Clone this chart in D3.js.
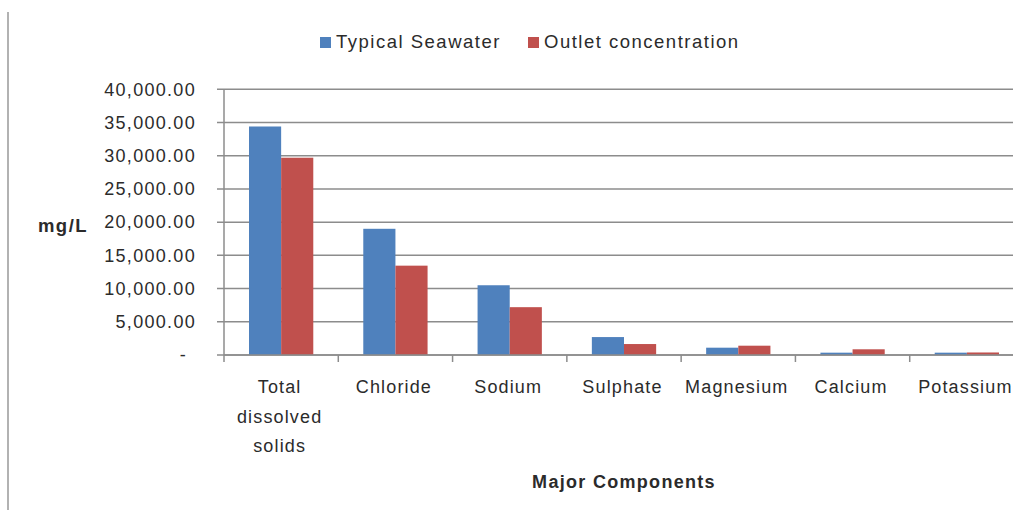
<!DOCTYPE html>
<html><head><meta charset="utf-8">
<script src="https://cdn.jsdelivr.net/npm/d3@7"></script>
<style>body{margin:0;background:#fff;overflow:hidden}svg{display:block}</style>
</head><body>
<script>
const categories = ["Total dissolved solids","Chloride","Sodium","Sulphate","Magnesium","Calcium","Potassium"];
const categoryLines = [["Total","dissolved","solids"],["Chloride"],["Sodium"],["Sulphate"],["Magnesium"],["Calcium"],["Potassium"]];
const seriesNames = ["Typical Seawater","Outlet concentration"];
const typicalSeawater = [34400, 19000, 10500, 2700, 1100, 350, 350];
const outletConcentration = [29700, 13450, 7200, 1650, 1400, 860, 380];
const yTicks = [0,5000,10000,15000,20000,25000,30000,35000,40000];
const colors = ["#4F81BD","#C0504D"];

(function(){
const W=1013,H=514;
const svg=d3.select("body").append("svg").attr("width",W).attr("height",H);
const font="Liberation Sans, Arial, sans-serif";
const txt="#2b2b2b";
const pL=224, pR=1024, pT=89.3, pB=355;

svg.append("line").attr("x1",8).attr("x2",8).attr("y1",12).attr("y2",510).attr("stroke","#999").attr("stroke-width",1.5);

const x=d3.scaleBand().domain(categories).range([pL,pR]).paddingInner(0).paddingOuter(0);
const y=d3.scaleLinear().domain([0,40000]).range([pB,pT]);
const inner=d3.scaleBand().domain(seriesNames).range([25,x.bandwidth()-25]);

svg.append("g").selectAll("line").data(yTicks).join("line")
  .attr("x1",pL-7).attr("x2",pR).attr("y1",d=>y(d)).attr("y2",d=>y(d))
  .attr("stroke","#8c8c8c").attr("stroke-width",1.5);

const data=categories.map((c,i)=>({c,vals:[typicalSeawater[i],outletConcentration[i]]}));
const g=svg.append("g");
data.forEach(d=>{
  d.vals.forEach((v,j)=>{
    g.append("rect").attr("x",x(d.c)+inner(seriesNames[j])).attr("width",inner.bandwidth())
      .attr("y",y(v)).attr("height",y(0)-y(v)).attr("fill",colors[j]);
  });
});

svg.append("line").attr("x1",pL).attr("x2",pL).attr("y1",pT).attr("y2",pB+7).attr("stroke","#8c8c8c").attr("stroke-width",1.5);
svg.append("line").attr("x1",pL).attr("x2",pR).attr("y1",pB).attr("y2",pB).attr("stroke","#8c8c8c").attr("stroke-width",1.5);
svg.append("g").selectAll("line").data(categories).join("line")
  .attr("x1",d=>x(d)+x.bandwidth()).attr("x2",d=>x(d)+x.bandwidth())
  .attr("y1",pB).attr("y2",pB+7).attr("stroke","#8c8c8c").attr("stroke-width",1.5);

const fmt=d3.format(",.2f");
svg.append("g").selectAll("text").data(yTicks).join("text")
  .attr("x",d=>d===0?187:196).attr("y",d=>y(d)).attr("dy","0.35em").attr("text-anchor","end")
  .attr("font-family",font).attr("font-size",18).attr("letter-spacing","1.3px").attr("fill",txt)
  .text(d=>d===0?"-":fmt(d));

svg.append("g").selectAll("text").data(categories).join("text")
  .attr("font-family",font).attr("font-size",18).attr("letter-spacing","1.15px").attr("fill",txt).attr("text-anchor","middle")
  .each(function(d,i){
    const t=d3.select(this);
    categoryLines[i].forEach((l,k)=>{
      t.append("tspan").attr("x",x(d)+x.bandwidth()/2-1.5).attr("y",393+k*29.5).text(l);
    });
  });

svg.append("text").attr("x",63).attr("y",232).attr("text-anchor","middle").attr("font-family",font)
  .attr("font-weight","bold").attr("font-size",18.5).attr("letter-spacing","1.5px").attr("fill",txt).text("mg/L");
svg.append("text").attr("x",624).attr("y",488).attr("text-anchor","middle").attr("font-family",font)
  .attr("font-weight","bold").attr("font-size",18).attr("letter-spacing","1.3px").attr("fill",txt).text("Major  Components");

const legX=[320,528];
seriesNames.forEach((s,i)=>{
  svg.append("rect").attr("x",legX[i]).attr("y",37).attr("width",11).attr("height",11).attr("fill",colors[i]);
  svg.append("text").attr("x",legX[i]+16).attr("y",48).attr("font-family",font).attr("font-size",18.5)
    .attr("letter-spacing","1.5px").attr("fill",txt).text(s);
});
})();
</script>
</body></html>
